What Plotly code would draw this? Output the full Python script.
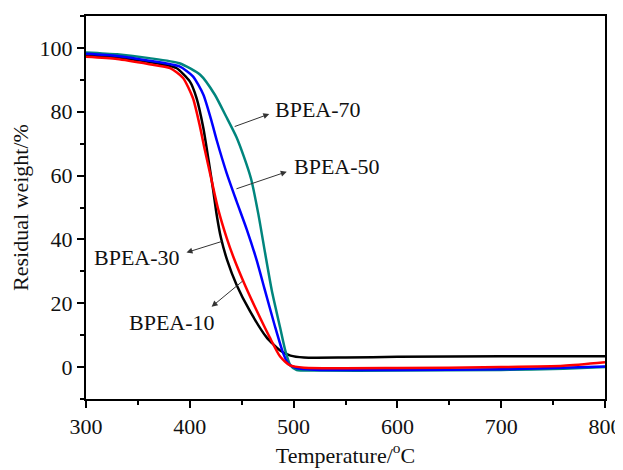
import plotly.graph_objects as go

# BPEA-10 (red)
x10 = [300, 330, 361, 381, 393.5, 403, 409.7, 414.5, 421, 427.3, 435.5, 442, 453, 464.4, 477, 487, 496.6, 510, 600, 700, 760, 800]
y10 = [97.2, 96.5, 94.9, 93.7, 90.6, 84.3, 75.5, 68.0, 58.5, 49.5, 40.5, 34.5, 25.8, 17.7, 9.3, 3.3, 0.5, -0.2, -0.3, 0.0, 0.4, 1.5]

# BPEA-30 (black)
x30 = [300, 330, 361, 387, 400, 406.5, 413, 418, 422.5, 426, 430, 436, 445, 458, 474, 487, 497, 510, 550, 600, 700, 800]
y30 = [97.8, 97.0, 95.6, 93.7, 89.5, 84.3, 75.0, 65.0, 55.5, 47.5, 40.5, 33.5, 25.8, 17.5, 9.3, 5.2, 3.6, 3.0, 3.0, 3.2, 3.4, 3.4]

# BPEA-50 (blue)
x50 = [300, 330, 361, 390, 403, 413, 421, 426, 435.5, 445, 455, 464.4, 472, 482, 490, 495, 503, 520, 600, 700, 800]
y50 = [98.2, 97.5, 96.0, 94.2, 91.1, 85.4, 77.0, 71.0, 60.8, 52.0, 43.0, 33.5, 24.5, 12.8, 4.3, 1.0, -0.3, -0.8, -0.9, -0.7, 0.2]

# BPEA-70 (teal)
x70 = [300, 330, 361, 390, 410, 424, 435, 445, 452, 459, 466, 472.5, 479, 487, 492, 497, 503, 520, 600, 700, 760, 800]
y70 = [98.6, 98.0, 96.8, 95.2, 91.6, 85.4, 78.5, 72.0, 66.0, 59.0, 48.0, 35.8, 24.0, 12.4, 5.2, 0.5, -0.9, -1.1, -1.1, -0.9, -0.5, 0.0]

series = [
    ("BPEA-30", x30, y30, "#000000"),
    ("BPEA-70", x70, y70, "#00857d"),
    ("BPEA-50", x50, y50, "#0000ff"),
    ("BPEA-10", x10, y10, "#ff0000"),
]

# label positions and arrows (tail on curve -> head near label)
labels = ["BPEA-70", "BPEA-50", "BPEA-30", "BPEA-10"]
label_x = [480.2, 498.3, 392.0, 382.6]
label_y = [80.8, 63.0, 34.3, 13.9]
label_anchor = ["left", "left", "right", "center"]
arrow_tail_x = [441.8, 443.5, 432.2, 452.2]
arrow_tail_y = [75.2, 55.7, 39.5, 27.3]
arrow_head_x = [476.6, 493.4, 396.8, 421.0]
arrow_head_y = [79.3, 61.2, 35.9, 18.9]

FONT = "Liberation Serif, Times New Roman, serif"

fig = go.Figure()
for name, xs, ys, col in series:
    fig.add_trace(go.Scatter(x=xs, y=ys, mode="lines", name=name,
                             line=dict(color=col, width=2.5, shape="spline", smoothing=0.6)))

for i in range(len(labels)):
    fig.add_annotation(x=arrow_head_x[i], y=arrow_head_y[i], ax=arrow_tail_x[i], ay=arrow_tail_y[i],
                       xref="x", yref="y", axref="x", ayref="y", text="", showarrow=True,
                       arrowhead=2, arrowsize=1.2, arrowwidth=1, arrowcolor="#333333", standoff=0, startstandoff=0)
    fig.add_annotation(x=label_x[i], y=label_y[i], xref="x", yref="y", text=labels[i], showarrow=False,
                       xanchor=label_anchor[i], yanchor="middle",
                       font=dict(family=FONT, size=22, color="#111111"))

axis_common = dict(showline=True, linewidth=2, linecolor="black", mirror=True, ticks="outside",
                   tickwidth=1.5, tickcolor="black", ticklen=7, showgrid=False, zeroline=False,
                   automargin=False,
                   tickfont=dict(family=FONT, size=22, color="#111111"))

fig.update_xaxes(range=[300, 800], dtick=100, tick0=300,
                 minor=dict(dtick=50, ticks="outside", ticklen=4, tickwidth=1.5, tickcolor="black"),
                 title=dict(text="Temperature/<sup>o</sup>C", font=dict(family=FONT, size=22, color="#111111"), standoff=7),
                 **axis_common)
fig.update_yaxes(range=[-10, 110], dtick=20, tick0=0,
                 minor=dict(dtick=10, ticks="outside", ticklen=4, tickwidth=1.5, tickcolor="black"),
                 title=dict(text="Residual weight/%", font=dict(family=FONT, size=22, color="#111111"), standoff=7),
                 **axis_common)

# page shows the figure offset by the default 8px body margin; margins compensate
fig.update_layout(width=623, height=470, margin=dict(l=78, r=26, t=8, b=79),
                  paper_bgcolor="white", plot_bgcolor="white", showlegend=False)

fig.write_html("out.html")
